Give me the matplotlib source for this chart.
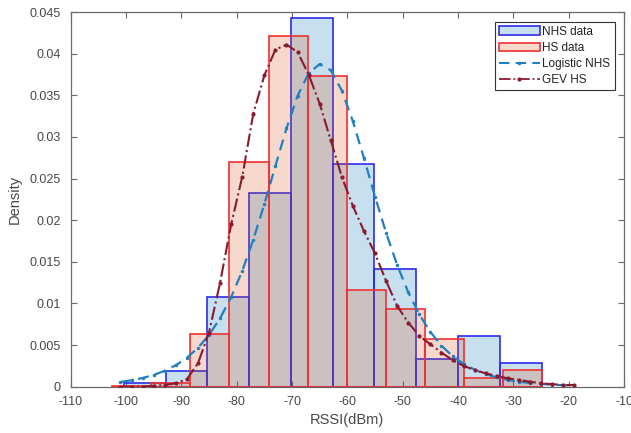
import matplotlib
matplotlib.use("Agg")
import matplotlib.pyplot as plt
from matplotlib.patches import Patch
from matplotlib.lines import Line2D

plt.rcParams['font.family'] = ['Liberation Sans', 'DejaVu Sans']
plt.rcParams['axes.unicode_minus'] = False

# histogram bins (edges) and densities
NHS_EDGES = [-100.4, -92.85, -85.3, -77.75, -70.2, -62.65, -55.1, -47.55, -40.0, -32.45, -24.9]
NHS_DENS = [0.0004, 0.0019, 0.0108, 0.0233, 0.0443, 0.0267, 0.0141, 0.0033, 0.0061, 0.0028]
HS_EDGES = [-102.45, -95.4, -88.35, -81.3, -74.25, -67.2, -60.15, -53.1, -46.05, -39.0, -31.95, -24.9]
HS_DENS = [0.0001, 0.0005, 0.0063, 0.0270, 0.0421, 0.0373, 0.0116, 0.0093, 0.0057, 0.0011, 0.0020]

# fitted pdf curves, sampled every 2 dBm
CURVE_X = [-101, -99, -97, -95, -93, -91, -89, -87, -85, -83, -81, -79, -77, -75,
           -73, -71, -69, -67, -65, -63, -61, -59, -57, -55, -53, -51, -49, -47,
           -45, -43, -41, -39, -37, -35, -33, -31, -29, -27, -25, -23, -21, -19]
LOGISTIC_NHS = [0.00056, 0.00077, 0.00104, 0.00141, 0.00191, 0.00258, 0.00347, 0.00466,
                0.00621, 0.00822, 0.01076, 0.01390, 0.01766, 0.02194, 0.02652, 0.03103,
                0.03493, 0.03765, 0.03875, 0.03802, 0.03558, 0.03187, 0.02745, 0.02284,
                0.01848, 0.01461, 0.01134, 0.00868, 0.00657, 0.00493, 0.00368, 0.00274,
                0.00204, 0.00150, 0.00111, 0.00081, 0.00060, 0.00044, 0.00032, 0.00024,
                0.00017, 0.00013]
GEV_HS = [0.0000, 0.0000, 0.0000, 0.0001, 0.0002, 0.0004, 0.0009, 0.0028,
          0.0065, 0.0125, 0.0195, 0.0252, 0.0328, 0.0374, 0.0405, 0.0411,
          0.0402, 0.0375, 0.0340, 0.0296, 0.0252, 0.0217, 0.0187, 0.0160,
          0.0127, 0.0097, 0.0077, 0.0061, 0.0051, 0.0041, 0.0032, 0.0025,
          0.0020, 0.0016, 0.0013, 0.0010, 0.0008, 0.0006, 0.0004, 0.0003,
          0.0002, 0.0002]

NHS_FACE = (0.0, 0.447, 0.741, 0.22)
NHS_EDGE = "#2b2bf0"
HS_FACE = (0.85, 0.325, 0.098, 0.22)
HS_EDGE = "#f03030"
LOG_C = "#1f80c0"
GEV_C = "#8c1a2e"
AX_GRAY = "#6a6a6a"
TXT = "#484848"

fig = plt.figure(figsize=(6.31, 4.33), dpi=100)
ax = fig.add_axes([0.112, 0.107, 0.877, 0.865])

ax.bar(NHS_EDGES[:-1], NHS_DENS, width=[b - a for a, b in zip(NHS_EDGES[:-1], NHS_EDGES[1:])],
       align="edge", facecolor=NHS_FACE, edgecolor=NHS_EDGE, linewidth=1.2, zorder=2)
ax.bar(HS_EDGES[:-1], HS_DENS, width=[b - a for a, b in zip(HS_EDGES[:-1], HS_EDGES[1:])],
       align="edge", facecolor=HS_FACE, edgecolor=HS_EDGE, linewidth=1.2, zorder=3)

ax.plot(CURVE_X, LOGISTIC_NHS, linestyle=(0, (5, 3)), color=LOG_C, lw=1.6,
        marker=".", markersize=3, zorder=4)
ax.plot(CURVE_X, GEV_HS, linestyle="-.", color=GEV_C, lw=1.5,
        marker=".", markersize=4, zorder=5)

ax.set_xlim(-110, -10)
ax.set_ylim(0, 0.045)
ax.set_xticks(range(-110, -9, 10))
ax.set_yticks([0, 0.005, 0.01, 0.015, 0.02, 0.025, 0.03, 0.035, 0.04, 0.045])
ax.set_yticklabels(["0", "0.005", "0.01", "0.015", "0.02", "0.025", "0.03", "0.035", "0.04", "0.045"])
ax.tick_params(direction="in", top=True, right=True, length=4, width=0.8,
               colors=AX_GRAY, labelcolor=TXT, labelsize=9)
ax.tick_params(axis="x", pad=7)
ax.tick_params(axis="y", pad=7)
for s in ax.spines.values():
    s.set_color(AX_GRAY)
    s.set_linewidth(0.9)

ax.set_xlabel("RSSI(dBm)", fontsize=10.5, color=TXT, labelpad=3)
ax.set_ylabel("Density", fontsize=10.5, color=TXT, labelpad=6)

handles = [
    Patch(facecolor=NHS_FACE, edgecolor=NHS_EDGE, linewidth=1.2, label="NHS data"),
    Patch(facecolor=HS_FACE, edgecolor=HS_EDGE, linewidth=1.2, label="HS data"),
    Line2D([], [], linestyle=(0, (5, 3)), color=LOG_C, lw=1.5, marker=".",
           markersize=3, label="Logistic NHS"),
    Line2D([], [], linestyle="-.", color=GEV_C, lw=1.3, marker=".",
           markersize=4, label="GEV HS"),
]
leg = ax.legend(handles=handles, loc="upper right", fontsize=8.5, frameon=True,
                fancybox=False, edgecolor="#333333", framealpha=1,
                borderaxespad=0.8, handlelength=3.4, handletextpad=0.25,
                labelspacing=0.35, borderpad=0.35)
leg.get_frame().set_linewidth(0.8)
for t in leg.get_texts():
    t.set_color("#222222")

fig.savefig("out.png", dpi=100, facecolor="white")
